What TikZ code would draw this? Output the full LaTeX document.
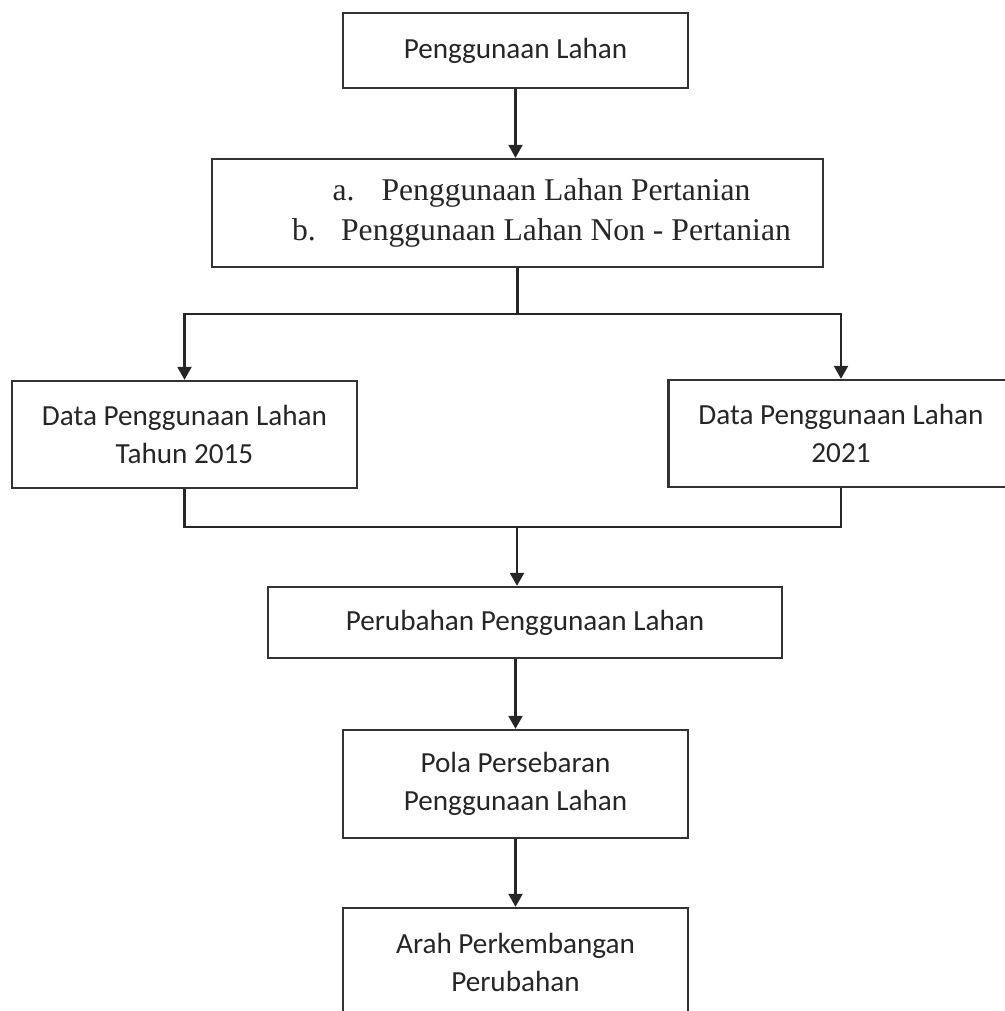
\documentclass[tikz,border=0pt]{standalone}
\usepackage{fontspec}
\setmainfont{Carlito}
\newfontfamily\listfont{Liberation Serif}
\usetikzlibrary{arrows.meta}

\begin{document}
\begin{tikzpicture}
% page frame
\path[use as bounding box, clip] (0,0) rectangle (20.1,-20.22);

% definitions
\tikzstyle{flowbox} = [rectangle, draw=black!80, line width=1.35pt, inner sep=0pt, align=center, text=black!85, font=\fontsize{16.6}{21.6}\selectfont]

\tikzstyle{mainbox} = [flowbox, minimum width=6.9cm, minimum height=1.5cm]

\tikzstyle{listbox} = [flowbox, minimum width=12.22cm, minimum height=2.16cm, font=\listfont\fontsize{18}{22.8}\selectfont]

\tikzstyle{databox} = [flowbox, minimum width=6.9cm, minimum height=2.14cm]

\tikzstyle{changebox} = [flowbox, minimum width=10.28cm, minimum height=1.42cm]

\tikzstyle{tallbox} = [flowbox, minimum width=6.9cm, minimum height=2.16cm]

\tikzstyle{arrow} = [-{Triangle[width=0.28cm,length=0.26cm]}, line width=1.35pt, draw=black!85]

\tikzstyle{link} = [line width=1.35pt, draw=black!85]

% the graph
\node (l0) [mainbox] at (10.31,-1.01) {Penggunaan Lahan};

\node (l1) [listbox, below of=l0, xshift=0.04cm, yshift=-2.25cm] {\hspace*{0.96cm}\makebox[0.98cm][l]{a.}Penggunaan Lahan Pertanian\\ \hspace*{0.96cm}\makebox[0.98cm][l]{b.}Penggunaan Lahan Non - Pertanian};

\node (l2) [databox, below of=l1, xshift=-6.66cm, yshift=-3.43cm] {Data Penggunaan Lahan\\ Tahun 2015};

\node (l3) [databox, below of=l1, xshift=6.47cm, yshift=-3.41cm] {Data Penggunaan Lahan\\ 2021};

\node (l4) [changebox, below of=l1, xshift=0.15cm, yshift=-7.19cm] {Perubahan Penggunaan Lahan};

\node (l5) [tallbox, below of=l4, xshift=-0.19cm, yshift=-2.23cm] {Pola Persebaran\\ Penggunaan Lahan};

\node (l6) [tallbox, below of=l5, yshift=-2.56cm] {Arah Perkembangan\\ Perubahan};

\coordinate (merge) at (10.34,-10.54);

\draw [arrow] (l0.south) -- (l0.south |- l1.north);

\draw [arrow] (l1.south) -- ++(0,-0.92) -| (l2.north);
\draw [arrow] (l1.south) -- ++(0,-0.92) -| (l3.north);

\draw [link] (l2.south) |- (merge) -| (l3.south);
\draw [arrow] (merge) -- (merge |- l4.north);

\draw [arrow] (l5.north |- l4.south) -- (l5.north);
\draw [arrow] (l5) -- (l6);

\end{tikzpicture}
\end{document}
